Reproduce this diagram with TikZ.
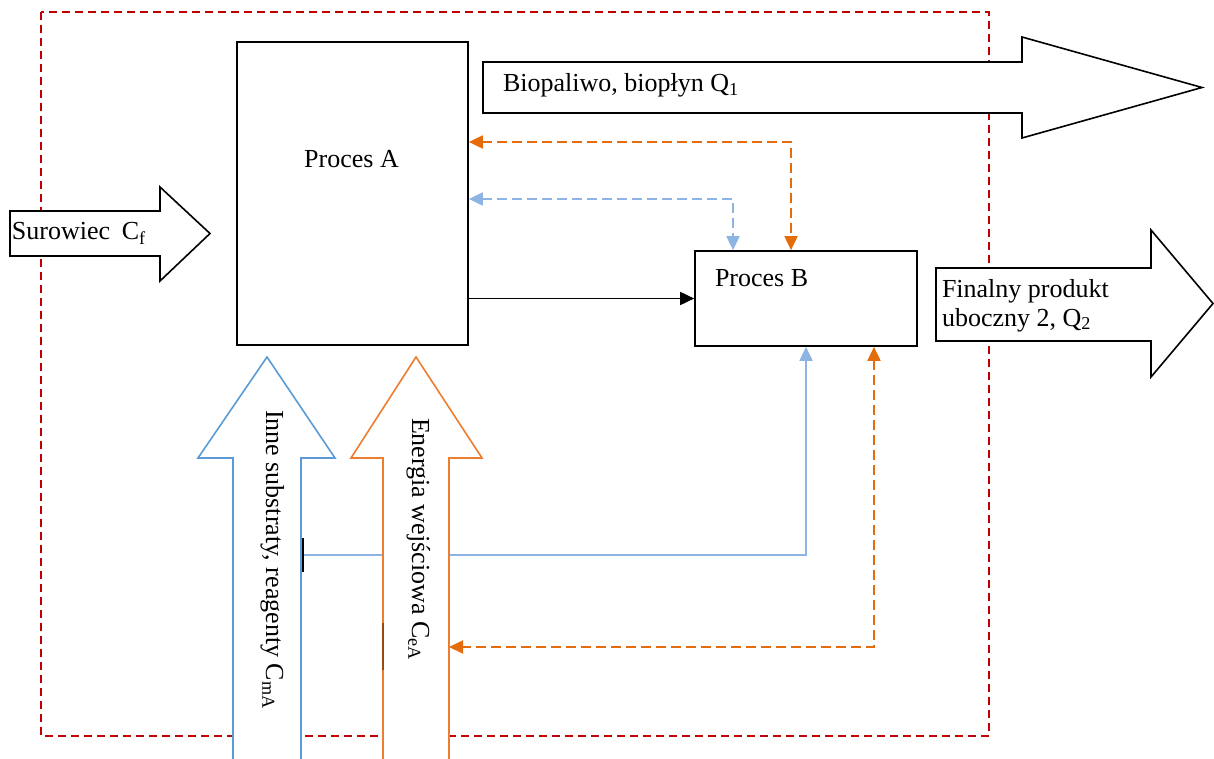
\documentclass[tikz,border=0pt]{standalone}
\usepackage{fontspec}
\setmainfont{Liberation Serif}
\usetikzlibrary{arrows.meta}
\definecolor{redD}{HTML}{C00000}
\definecolor{orO}{HTML}{ED7D31}
\definecolor{orD}{HTML}{E46C0A}
\definecolor{blO}{HTML}{5B9BD5}
\definecolor{blL}{HTML}{8EB4E3}
\definecolor{brn}{HTML}{9A4A10}
\begin{document}
\begin{tikzpicture}[x=1pt,y=-1pt,
  font=\fontsize{26}{30}\selectfont,
  box/.style={draw, line width=1.7pt, rectangle, inner sep=0pt},
  bigK/.style={draw=black, fill=white, line width=1.6pt, line join=miter},
  bigB/.style={draw=blO, fill=white, line width=1.6pt, line join=miter},
  bigO/.style={draw=orO, fill=white, line width=1.6pt, line join=miter},
  lbl/.style={inner sep=0pt, outer sep=0pt},
  tri/.tip={Triangle[length=14pt,width=13pt]},
  blk/.style={draw=black, line width=1.8pt, -tri},
  odash/.style={draw=orD, line width=1.9pt, dash pattern=on 10pt off 5pt},
  bdash/.style={draw=blL, line width=1.9pt, dash pattern=on 10pt off 5pt},
  bsolid/.style={draw=blL, line width=1.9pt, -tri},
  frame/.style={draw=redD, line width=1.7pt, dash pattern=on 8pt off 5pt}
]
\useasboundingbox (0,0) rectangle (1214,759);

% outer dashed frame
\draw[frame] (41,12) rectangle (989,736);

% coordinates
\coordinate (oA) at (791,142);
\coordinate (bA) at (733,199);
\coordinate (cm) at (301,555);
\coordinate (cmB) at (806,555);
\coordinate (ce) at (449,647);
\coordinate (ceB) at (874,647);

% process boxes
\node[box, minimum width=231pt, minimum height=303pt] (A) at (352.5,193.5) {};
\node[box, minimum width=222pt, minimum height=95pt] (B) at (806,298.5) {};

% blue solid connector (hidden under the big vertical arrows)
\draw[bsolid] (cm) -- (cmB) -- (B.south);

% big arrows
\path[bigK] (10,211) -- (160,211) -- (160,187) -- (210,233.5) -- (160,281) -- (160,256) -- (10,256) -- cycle;
\path[bigK] (483,62) -- (1022,62) -- (1022,37) -- (1202,87.5) -- (1022,138) -- (1022,113) -- (483,113) -- cycle;
\path[bigK] (936,268) -- (1151,268) -- (1151,230) -- (1213,303.5) -- (1151,377) -- (1151,341) -- (936,341) -- cycle;
\path[bigB] (233,765) -- (233,458) -- (198,458) -- (267,357) -- (335,458) -- (301,458) -- (301,765);
\path[bigO] (383,765) -- (383,458) -- (351,458) -- (416,357) -- (482,458) -- (449,458) -- (449,765);

% small marks
\draw[line width=2pt] (303,538) -- (303,572);
\draw[brn, line width=1.4pt] (383,623) -- (383,670);

% connectors
\draw[blk] (A.east |- B.west) -- (B.west);
\draw[odash, tri-tri] (A.east |- oA) -- (oA) -- (oA |- B.north);
\draw[bdash, tri-tri] (A.east |- bA) -- (bA) -- (bA |- B.north);
\draw[odash, tri-tri] (B.south -| ceB) -- (ceB) -- (ce);

% labels
\node[lbl, anchor=base] (tA) at (351.5,168) {Proces A};
\node[lbl, anchor=base west] (tB) at (715,286) {Proces B};
\node[lbl, anchor=base west] (tQ1) at (503,92) {Biopaliwo, biopłyn Q\textsubscript{1}};
\node[lbl, anchor=base west] (tQ2a) at (942,297) {Finalny produkt};
\node[lbl, anchor=base west] (tQ2b) at (942,326) {uboczny 2, Q\textsubscript{2}};
\node[lbl, anchor=base west] (tCf) at (12,240) {Surowiec\hspace{0.45em}C\textsubscript{f}};
\node[lbl, anchor=base west, rotate=-90] (tCm) at (266,410) {Inne substraty, reagenty C\textsubscript{mA}};
\node[lbl, anchor=base west, rotate=-90] (tCe) at (412,418) {Energia wejściowa C\textsubscript{eA}};
\end{tikzpicture}
\end{document}
